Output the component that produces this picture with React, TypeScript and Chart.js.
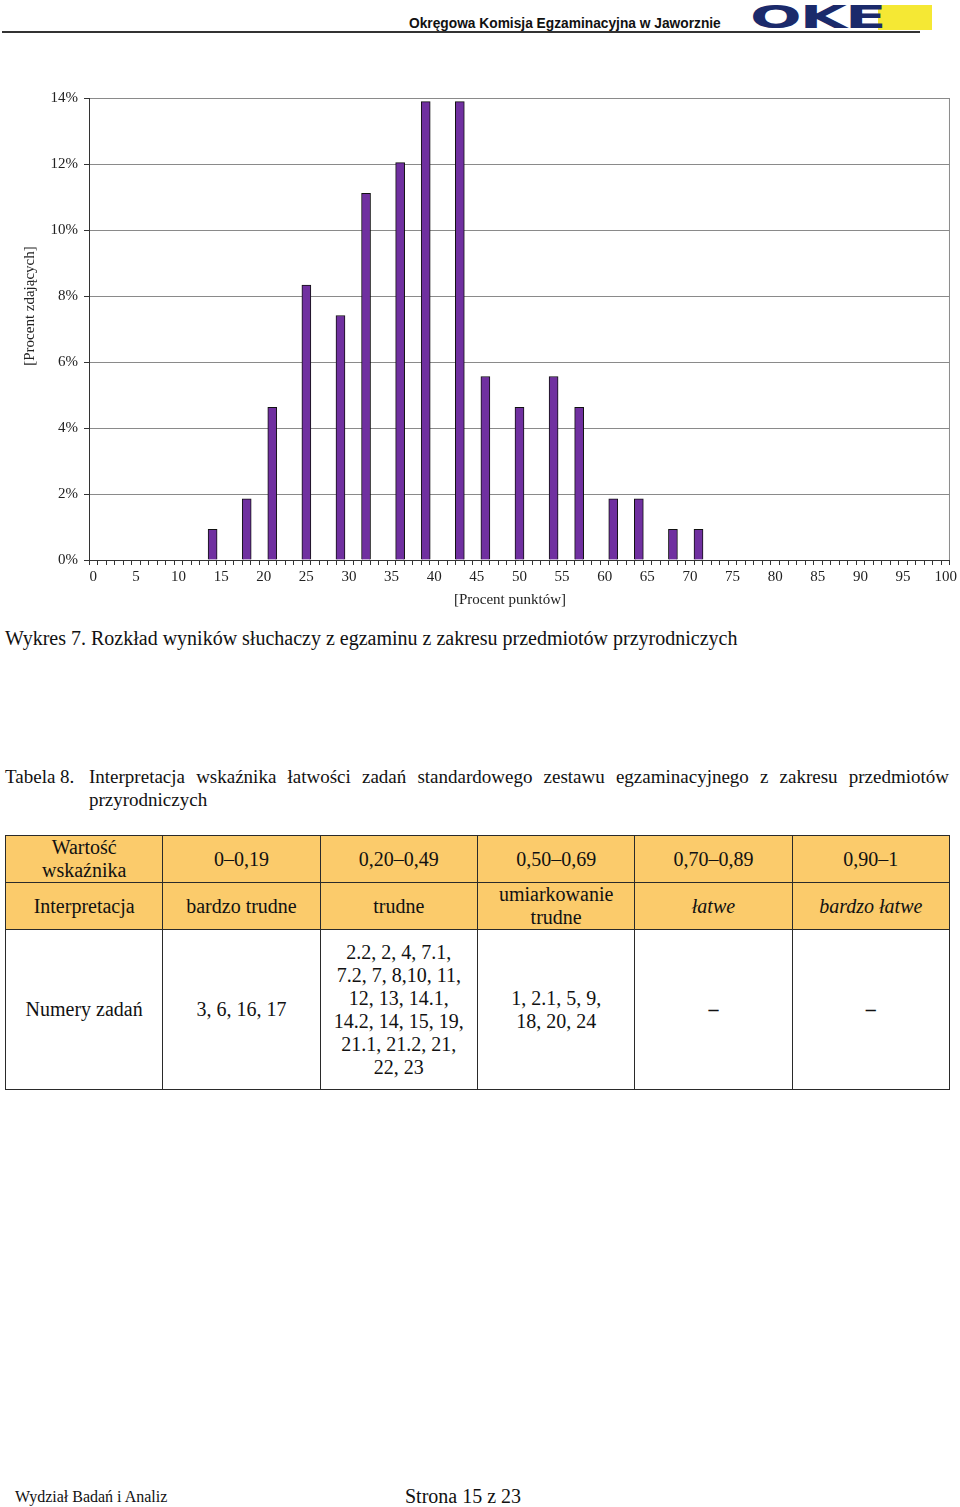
import React, { useEffect, useRef } from 'react';
import { Chart, registerables } from 'chart.js';

Chart.register(...registerables);

// x-axis domain: percent of points, one category per integer 0..100
const categories: string[] = Array.from({ length: 101 }, (_, i) => String(i));
const xTickLabels = ['0', '5', '10', '15', '20', '25', '30', '35', '40', '45', '50', '55', '60', '65', '70', '75', '80', '85', '90', '95', '100'];
const yTickValues = [0, 2, 4, 6, 8, 10, 12, 14];

// observed scores (percent of points) and share of examinees (%)
const scorePercent = ['14', '18', '21', '25', '29', '32', '36', '39', '43', '46', '50', '54', '57', '61', '64', '68', '71'];
const studentShare = [0.93, 1.85, 4.63, 8.33, 7.41, 11.11, 12.04, 13.89, 13.89, 5.56, 4.63, 5.56, 4.63, 1.85, 1.85, 0.93, 0.93];

const yTitle = '[Procent zdających]';
const xTitle = '[Procent punktów]';

const SERIF = '"Liberation Serif", "Times New Roman", serif';
const SANS = '"Liberation Sans", Arial, sans-serif';

function HistChart() {
  const ref = useRef<HTMLCanvasElement | null>(null);
  useEffect(() => {
    if (!ref.current) return;
    const titlesPlugin = {
      id: 'titlesPlugin',
      afterDraw(chart: any) {
        const { ctx, chartArea } = chart;
        ctx.save();
        ctx.strokeStyle = '#8a8a8a';
        ctx.lineWidth = 1;
        ctx.beginPath();
        ctx.moveTo(chartArea.right - 0.5, chartArea.top);
        ctx.lineTo(chartArea.right - 0.5, chartArea.bottom);
        ctx.stroke();
        ctx.fillStyle = '#222';
        ctx.font = '15px ' + SERIF;
        ctx.textAlign = 'center';
        ctx.textBaseline = 'middle';
        ctx.fillText(xTitle, 510, 520);
        ctx.translate(30, 226);
        ctx.rotate(-Math.PI / 2);
        ctx.fillText(yTitle, 0, 0);
        ctx.restore();
      },
    };
    const chart = new Chart(ref.current, {
      type: 'bar',
      data: {
        labels: categories,
        datasets: [
          {
            data: scorePercent.map((x, i) => ({ x, y: studentShare[i] })) as any,
            backgroundColor: '#7030A0',
            borderColor: '#111',
            borderWidth: 1,
            barThickness: 9,
          },
        ],
      },
      options: {
        responsive: false,
        animation: false,
        devicePixelRatio: 1,
        layout: { padding: { top: 18, right: 8, left: 0, bottom: 0 } },
        plugins: { legend: { display: false }, tooltip: { enabled: false } },
        scales: {
          x: {
            type: 'category',
            offset: true,
            grid: { offset: true, drawOnChartArea: false, drawTicks: true, tickLength: 5, tickColor: '#333', color: '#333' },
            border: { color: '#333', width: 1 },
            ticks: {
              autoSkip: false,
              maxRotation: 0,
              minRotation: 0,
              padding: 3,
              color: '#222',
              font: { family: SERIF, size: 15 },
              callback: (_v: any, i: number) => (xTickLabels.includes(categories[i]) ? categories[i] : ''),
            },
            afterFit: (s: any) => {
              s.height = 60;
            },
          },
          y: {
            min: 0,
            max: 14,
            afterBuildTicks: (s: any) => {
              s.ticks = yTickValues.map((v) => ({ value: v }));
            },
            ticks: {
              padding: 6,
              color: '#222',
              font: { family: SERIF, size: 15 },
              callback: (v: any) => v + '%',
            },
            grid: { color: '#8a8a8a', tickLength: 5, tickColor: '#333' },
            border: { color: '#333', width: 1 },
            afterFit: (s: any) => {
              s.width = 89;
            },
          },
        },
      },
      plugins: [titlesPlugin],
    });
    return () => chart.destroy();
  }, []);
  return <canvas ref={ref} width={960} height={540} style={{ display: 'block', width: 960, height: 540 }} />;
}

const th: React.CSSProperties = {
  border: '1.5px solid #2a2a2a',
  background: '#FBCB6B',
  textAlign: 'center',
  verticalAlign: 'middle',
  fontWeight: 'normal',
  padding: 0,
  lineHeight: '23px',
};
const td: React.CSSProperties = {
  border: '1.5px solid #2a2a2a',
  background: '#fff',
  textAlign: 'center',
  verticalAlign: 'middle',
  padding: 0,
  lineHeight: '23px',
};

export default function App() {
  return (
    <div style={{ position: 'absolute', left: 0, top: 0, width: 960, height: 1507, background: '#fff', fontFamily: SERIF, color: '#111', overflow: 'hidden' }}>
      {/* header */}
      <div style={{ position: 'absolute', left: 409, top: 16, fontFamily: SANS, fontWeight: 'bold', fontSize: 13.75, color: '#111', whiteSpace: 'nowrap' }}>
        Okręgowa Komisja Egzaminacyjna w Jaworznie
      </div>
      <div style={{ position: 'absolute', left: 2, top: 31, width: 918, height: 2, background: '#333' }} />
      <div style={{ position: 'absolute', left: 878, top: 5, width: 54, height: 25, background: '#F5E834' }} />
      <div style={{ position: 'absolute', left: 750, top: 0, height: 34, fontFamily: '"DejaVu Sans", sans-serif', fontWeight: 900, fontSize: 32, lineHeight: '34px', color: '#1B2A6B', transform: 'scaleX(1.9)', transformOrigin: 'left center', letterSpacing: -1 }}>
        OKE
      </div>

      {/* chart */}
      <div style={{ position: 'absolute', left: 0, top: 80, width: 960, height: 540 }}>
        <HistChart />
      </div>

      <div style={{ position: 'absolute', left: 5, top: 627, fontSize: 20, whiteSpace: 'nowrap' }}>
        Wykres 7. Rozkład wyników słuchaczy z egzaminu z zakresu przedmiotów przyrodniczych
      </div>

      <div style={{ position: 'absolute', left: 5, top: 765, width: 944, fontSize: 19, lineHeight: '23px', textAlign: 'justify', paddingLeft: 84, textIndent: -84, boxSizing: 'border-box' }}>
        <span style={{ display: 'inline-block', width: 84, textIndent: 0 }}>Tabela 8.</span>Interpretacja wskaźnika łatwości zadań standardowego zestawu egzaminacyjnego z zakresu przedmiotów przyrodniczych
      </div>

      <table style={{ position: 'absolute', left: 5, top: 835, width: 945, borderCollapse: 'collapse', tableLayout: 'fixed', fontSize: 20, fontFamily: SERIF, color: '#111' }}>
        <tbody>
          <tr style={{ height: 47 }}>
            <td style={th}>Wartość<br />wskaźnika</td>
            <td style={th}>0–0,19</td>
            <td style={th}>0,20–0,49</td>
            <td style={th}>0,50–0,69</td>
            <td style={th}>0,70–0,89</td>
            <td style={th}>0,90–1</td>
          </tr>
          <tr style={{ height: 47 }}>
            <td style={th}>Interpretacja</td>
            <td style={th}>bardzo trudne</td>
            <td style={th}>trudne</td>
            <td style={th}>umiarkowanie<br />trudne</td>
            <td style={{ ...th, fontStyle: 'italic' }}>łatwe</td>
            <td style={{ ...th, fontStyle: 'italic' }}>bardzo łatwe</td>
          </tr>
          <tr style={{ height: 160 }}>
            <td style={td}>Numery zadań</td>
            <td style={td}>3, 6, 16, 17</td>
            <td style={td}>2.2, 2, 4, 7.1,<br />7.2, 7, 8,10, 11,<br />12, 13, 14.1,<br />14.2, 14, 15, 19,<br />21.1, 21.2, 21,<br />22, 23</td>
            <td style={td}>1, 2.1, 5, 9,<br />18, 20, 24</td>
            <td style={{ ...td, fontWeight: 'bold' }}>–</td>
            <td style={{ ...td, fontWeight: 'bold' }}>–</td>
          </tr>
        </tbody>
      </table>

      <div style={{ position: 'absolute', left: 15, top: 1488, fontSize: 16, whiteSpace: 'nowrap' }}>Wydział Badań i Analiz</div>
      <div style={{ position: 'absolute', left: 405, top: 1485, fontSize: 20, whiteSpace: 'nowrap' }}>Strona 15 z 23</div>
    </div>
  );
}
